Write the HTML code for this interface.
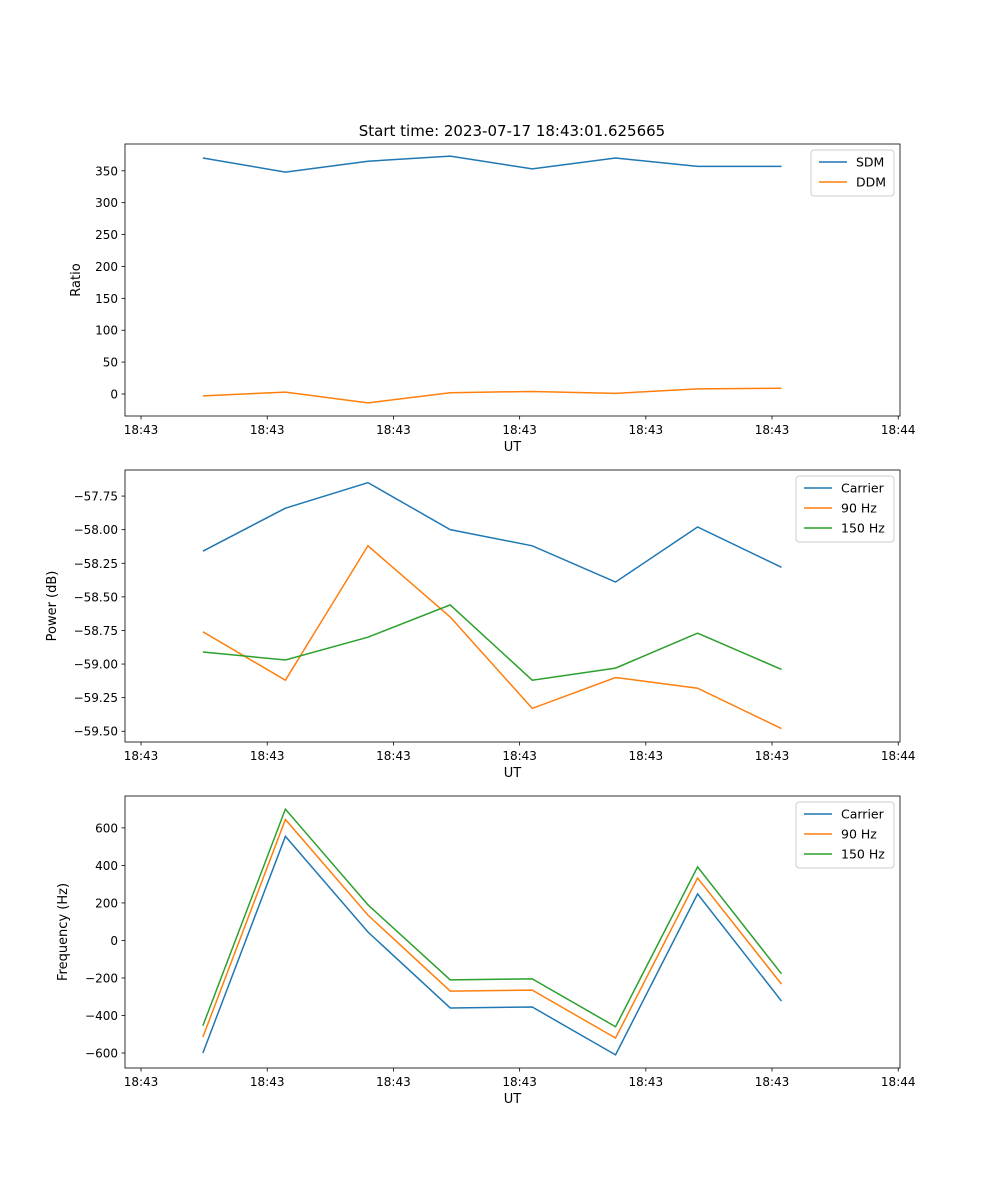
<!DOCTYPE html>
<html><head><meta charset="utf-8">
<style>
body{margin:0;background:#fff;}
svg{display:block;font-family:"DejaVu Sans","Liberation Sans",sans-serif;}
</style></head>
<body>
<svg id="fig" width="1000" height="1200" xmlns="http://www.w3.org/2000/svg">
<rect width="1000" height="1200" fill="#fff"/>
<text x="512" y="136" font-size="15" text-anchor="middle">Start time: 2023-07-17 18:43:01.625665</text>
</svg>
<script>
const times = [4.9, 11.44, 17.98, 24.5, 31.0, 37.6, 44.1, 50.75];
const xTickVals = [0, 10, 20, 30, 40, 50, 60];
const xTickLabels = ["18:43","18:43","18:43","18:43","18:43","18:43","18:44"];
const sdm = [370, 348, 365, 373, 353, 370, 357, 357];
const ddm = [-3, 3, -14, 2, 4, 1, 8, 9];
const carrierPow = [-58.16, -57.84, -57.65, -58.0, -58.12, -58.39, -57.98, -58.28];
const hz90Pow = [-58.76, -59.12, -58.12, -58.65, -59.33, -59.10, -59.18, -59.48];
const hz150Pow = [-58.91, -58.97, -58.80, -58.56, -59.12, -59.03, -58.77, -59.04];
const carrierFreq = [-600, 555, 45, -360, -355, -610, 248, -323];
const hz90Freq = [-515, 645, 135, -270, -265, -520, 333, -233];
const hz150Freq = [-455, 700, 190, -210, -205, -460, 392, -178];
const ratioTicks = [0, 50, 100, 150, 200, 250, 300, 350];
const powTicks = [-57.75, -58.0, -58.25, -58.5, -58.75, -59.0, -59.25, -59.5];
const freqTicks = [600, 400, 200, 0, -200, -400, -600];

const NS = "http://www.w3.org/2000/svg";
const svg = document.getElementById("fig");
const L = 125, R = 900;
const xMin = -1.27, xMax = 60.14;
function xs(t){ return L + (t - xMin) / (xMax - xMin) * (R - L); }
function mk(tag, attrs, parent){
  const e = document.createElementNS(NS, tag);
  for (const k in attrs) e.setAttribute(k, attrs[k]);
  (parent || svg).appendChild(e);
  return e;
}
const C = ["#1f77b4", "#ff7f0e", "#2ca02c"];

function panel(key, top, yMin, yMax, yTicks, fmt, ylabel, series, names, legW){
  const bot = top + 272;
  const ys = v => bot - (v - yMin) / (yMax - yMin) * (bot - top);
  const g = mk("g", {});
  
  
  series.forEach((s, si) => {
    const p = mk("polyline", {points: s.map((v, i) => xs(times[i]) + "," + ys(v)).join(" "), fill: "none", stroke: C[si], "stroke-width": 1.5}, g);
    
    
  });
  const frame = mk("rect", {x: L, y: top, width: R - L, height: bot - top, fill: "none", stroke: "#000", "stroke-width": 0.8}, g);
  
  
  xTickVals.forEach((t, i) => {
    const x = xs(t);
    mk("line", {x1: x, x2: x, y1: bot, y2: bot + 3.5, stroke: "#000", "stroke-width": 0.8}, g);
    const tx = mk("text", {x: x, y: bot + 18, "font-size": 12, "text-anchor": "middle"}, g);
    tx.textContent = xTickLabels[i];
    
    
  });
  const xl = mk("text", {x: (L + R) / 2, y: bot + 35, "font-size": 13, "text-anchor": "middle"}, g);
  xl.textContent = "UT";
  
  
  yTicks.forEach(v => {
    const y = ys(v);
    mk("line", {x1: L - 3.5, x2: L, y1: y, y2: y, stroke: "#000", "stroke-width": 0.8}, g);
    const tx = mk("text", {x: L - 7, y: y + 4.5, "font-size": 12, "text-anchor": "end"}, g);
    tx.textContent = fmt(v);
    
    
  });
  const yl = mk("text", {x: 0, y: 0, "font-size": 13, "text-anchor": "middle", transform: `translate(${ylabel[1]},${(top + bot) / 2}) rotate(-90)`}, g);
  yl.textContent = ylabel[0];
  
  
  const lx = R - 6 - legW, ly = top + 6, lh = 6 + names.length * 20;
  const lg = mk("g", {}, g);
  
  
  mk("rect", {x: lx, y: ly, width: legW, height: lh, rx: 3, fill: "#fff", stroke: "#ccc", "stroke-width": 1}, lg);
  names.forEach((n, i) => {
    const yy = ly + 12 + i * 20;
    mk("line", {x1: lx + 8, x2: lx + 36, y1: yy, y2: yy, stroke: C[i], "stroke-width": 1.5}, lg);
    const t = mk("text", {x: lx + 45, y: yy + 4.5, "font-size": 12.5}, lg);
    t.textContent = n;
    
    
  });
}
const minus = s => String(s).replace("-", "\u2212");
panel("ratio", 144, -34.5, 392, ratioTicks, v => minus(v), ["Ratio", 80], [sdm, ddm], ["SDM", "DDM"], 83);
panel("power", 470, -59.58, -57.556, powTicks, v => minus(v.toFixed(2)), ["Power (dB)", 56], [carrierPow, hz90Pow, hz150Pow], ["Carrier", "90 Hz", "150 Hz"], 98);
panel("freq", 796, -680, 770, freqTicks, v => minus(v), ["Frequency (Hz)", 67], [carrierFreq, hz90Freq, hz150Freq], ["Carrier", "90 Hz", "150 Hz"], 98);
</script>
</body></html>
